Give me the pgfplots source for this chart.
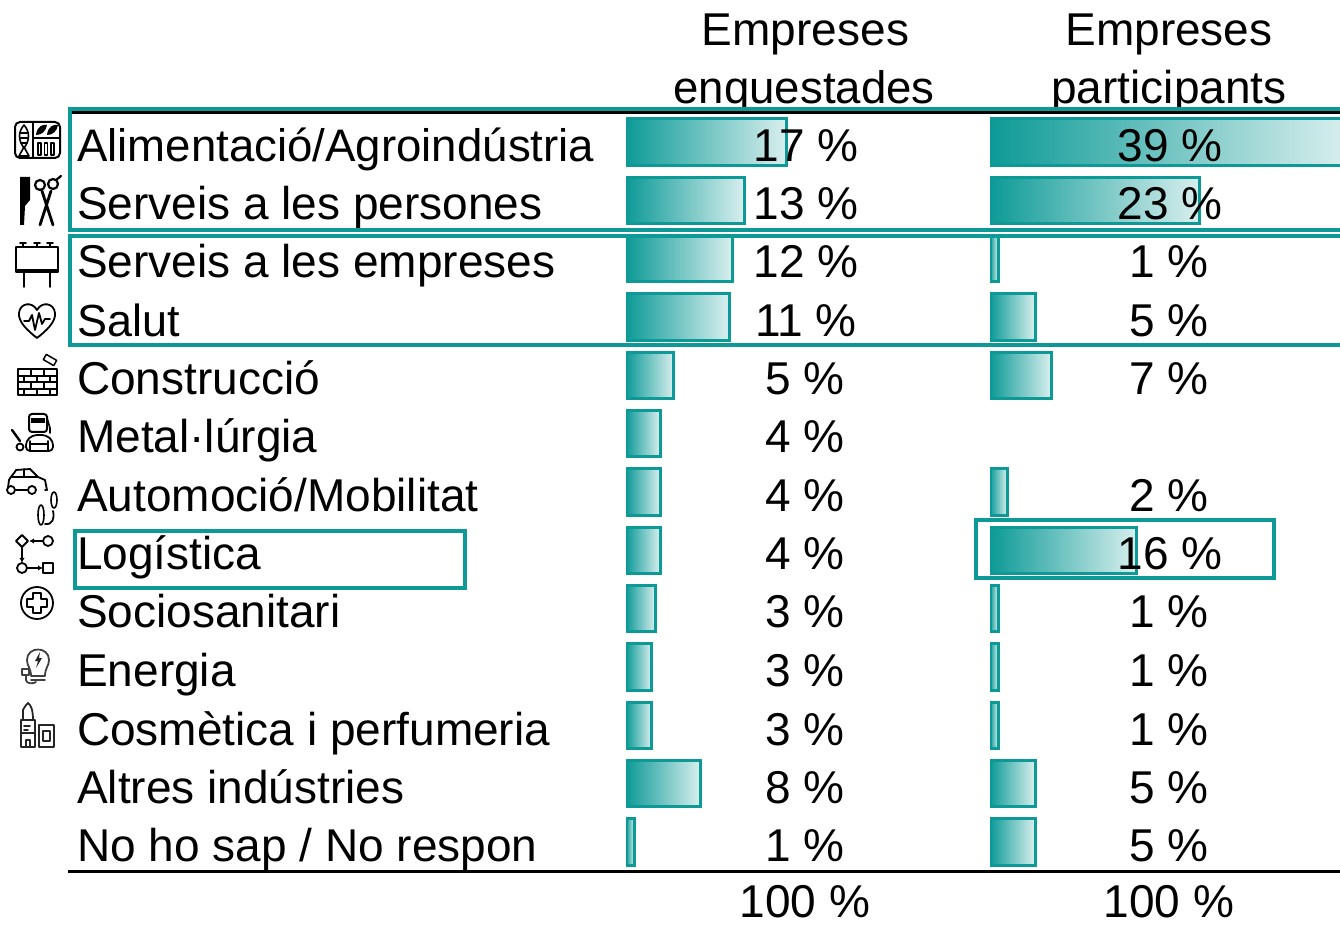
\documentclass[border=0pt]{standalone}
\usepackage{pgfplots}
\pgfplotsset{compat=1.18}
\usepackage{fontspec}
\setmainfont{Liberation Sans}
\definecolor{teal1}{HTML}{0D9A97}
\definecolor{teal2}{HTML}{D8EFEE}
\pgfplotsset{baraxis/.style={
  scale only axis, height=924pt, hide axis, y dir=reverse,
  ymin=-2.4343, ymax=13.406, xmin=0, anchor=south west, clip=true}}
\pgfplotsset{barstyle/.style={xbar, bar width=46.5pt, draw=teal1, line width=3pt,
  left color=teal1, right color=teal2, shading angle=90}}
\newcommand{\fs}{\fontsize{46}{50}\selectfont}
\newcommand{\fn}{\fontsize{45.6}{50}\selectfont}
\newcommand{\lab}[2]{\node[anchor=base west,inner sep=0pt] at (77,#1) {\fs #2};}
\newcommand{\vl}[3]{\node[anchor=base,inner sep=0pt] at (#1,#2) {\fs #3};}
\begin{document}
\begin{tikzpicture}[x=1pt,y=1pt]
\path[use as bounding box] (0,0) rectangle (1340,924);
\begin{axis}[baraxis, at={(626pt,0pt)}, width=714pt, xmax=77.6]
\addplot[barstyle] coordinates {(17.4,0)};
\addplot[barstyle] coordinates {(12.9,1)};
\addplot[barstyle] coordinates {(11.6,2)};
\addplot[barstyle] coordinates {(11.2,3)};
\addplot[barstyle] coordinates {(5.2,4)};
\addplot[barstyle] coordinates {(3.7,5)};
\addplot[barstyle] coordinates {(3.7,6)};
\addplot[barstyle] coordinates {(3.7,7)};
\addplot[barstyle] coordinates {(3.2,8)};
\addplot[barstyle] coordinates {(2.8,9)};
\addplot[barstyle] coordinates {(2.8,10)};
\addplot[barstyle] coordinates {(8.1,11)};
\addplot[barstyle] coordinates {(0.9,12)};
\end{axis}
\begin{axis}[baraxis, at={(990pt,0pt)}, width=350pt, xmax=38.9]
\addplot[barstyle] coordinates {(39.5,0)};
\addplot[barstyle] coordinates {(23.3,1)};
\addplot[barstyle] coordinates {(0.9,2)};
\addplot[barstyle] coordinates {(5.0,3)};
\addplot[barstyle] coordinates {(6.8,4)};
\addplot[barstyle] coordinates {(1.9,6)};
\addplot[barstyle] coordinates {(16.3,7)};
\addplot[barstyle] coordinates {(0.9,8)};
\addplot[barstyle] coordinates {(0.9,9)};
\addplot[barstyle] coordinates {(0.9,10)};
\addplot[barstyle] coordinates {(5.0,11)};
\addplot[barstyle] coordinates {(5.0,12)};
\end{axis}
\begin{scope}[yshift=924pt,y=-1pt]
\draw[black,line width=3pt] (68,113)--(1340,113);
\draw[black,line width=3pt] (68,871)--(1340,871);
% headers
\vl{805.5}{46}{Empreses}\node[anchor=base,inner sep=0pt] at (804,104) {\fn enquestades};
\vl{1169}{46}{Empreses}\vl{1169}{104}{participants}
% categories
\node[anchor=base west,inner sep=0pt] at (77,162) {\fn Alimentació/Agroindústria};
\lab{220}{Serveis a les persones}
\lab{278}{Serveis a les empreses}
\node[anchor=base west,inner sep=0pt] at (77,337) {\fontsize{45}{50}\selectfont Salut};
\lab{395}{Construcció}
\lab{453}{Metal·lúrgia}
\lab{512}{Automoció/Mobilitat}
\lab{570}{Logística}
\lab{628}{Sociosanitari}
\lab{686}{Energia}
\lab{745}{Cosmètica i perfumeria}
\lab{803}{Altres indústries}
\lab{861}{No ho sap / No respon}
% values
\vl{806}{162}{17 \%}\vl{806}{220}{13 \%}\vl{806}{278}{12 \%}\vl{806}{337}{11 \%}
\vl{805}{395}{5 \%}\vl{805}{453}{4 \%}\vl{805}{512}{4 \%}\vl{805}{570}{4 \%}
\vl{805}{628}{3 \%}\vl{805}{686}{3 \%}\vl{805}{745}{3 \%}\vl{805}{803}{8 \%}\vl{805}{861}{1 \%}
\vl{805}{917}{100 \%}
\vl{1170}{162}{39 \%}\vl{1170}{220}{23 \%}\vl{1169}{278}{1 \%}\vl{1169}{337}{5 \%}
\vl{1169}{395}{7 \%}\vl{1169}{512}{2 \%}\vl{1170}{570}{16 \%}
\vl{1169}{628}{1 \%}\vl{1169}{686}{1 \%}\vl{1169}{745}{1 \%}\vl{1169}{803}{5 \%}\vl{1169}{861}{5 \%}
\vl{1169}{917}{100 \%}
% frames
\draw[teal1,line width=3.6pt] (1345,109)--(70,109)--(70,230)--(1345,230);
\draw[teal1,line width=3.6pt] (1345,236)--(70,236)--(70,345)--(1345,345);
\draw[teal1,line width=3.6pt] (75,531) rectangle (465,588);
\draw[teal1,line width=3.6pt] (976,520) rectangle (1274,578);
% icons
\begin{scope}[line width=1.8pt,line cap=round,line join=round]
% food tray
\draw[rounded corners=5pt,line width=2pt] (15,122) rectangle (60,158);
\draw (33,122)--(33,158) (33,138)--(60,138);
\draw[line width=1.6pt] (24,125) .. controls (18,132) and (18,140) .. (24,148) .. controls (30,140) and (30,132) .. (24,125);
\draw[line width=1.6pt] (24,147)--(19,156)--(29,156)--cycle;
\draw (20,133)--(28,133) (20,138)--(28,138) (21,143)--(27,143);
\fill (36,135) .. controls (37,126) and (43,124) .. (47,125) .. controls (46,131) and (42,135) .. (36,135);
\fill (47,135) .. controls (48,126) and (54,124) .. (58,125) .. controls (57,131) and (53,135) .. (47,135);
\draw[line width=1.5pt] (38,143) rectangle (41,155) (44.5,143) rectangle (47.5,155) (51,143) rectangle (54,155);
% comb, scissors
\fill (20,177)--(30,177)--(30,200)--(25,206)--(24,225)--(20,225)--cycle;
\draw[line width=2.2pt] (40,185) circle (5) (53,184) circle (5);
\draw[line width=2.8pt] (42,191)--(53,225) (51,191)--(40,225);
\draw[line width=2.2pt] (56,180)--(61,176);
% billboard
\draw[line width=2pt] (16,247) rectangle (58,272);
\fill (16,269) rectangle (58,273);
\draw[line width=2pt] (24,273)--(24,287) (50,273)--(50,287) (23,243)--(23,247) (37,243)--(37,247) (50,243)--(50,247);
\draw (20,243)--(26,243) (34,243)--(40,243) (47,243)--(53,243);
% heart
\draw[line width=1.8pt] (37,338) .. controls (28,331) and (18,322) .. (19,313) .. controls (20,303) and (32,301) .. (37,310) .. controls (42,301) and (54,303) .. (55,313) .. controls (56,322) and (46,331) .. (37,338) -- cycle;
\draw (24,321)--(29,321)--(32,315)--(35,330)--(39,313)--(42,324)--(45,319)--(50,319);
% bricks
\draw[line width=1.8pt] (18,369) rectangle (57,395);
\draw[line width=1.5pt] (18,376)--(57,376) (18,382)--(57,382) (18,389)--(57,389);
\draw[line width=1.5pt] (31,369)--(31,376) (44,369)--(44,376) (24,376)--(24,382) (37,376)--(37,382) (50,376)--(50,382) (31,382)--(31,389) (44,382)--(44,389) (24,389)--(24,395) (37,389)--(37,395) (50,389)--(50,395);
\draw[line width=1.5pt,rotate around={-30:(50,360)}] (44,357) rectangle (56,363);
% welder
\draw[rounded corners=3pt,line width=2pt] (29,432) -- (29,414) -- (47,414) -- (47,432) -- cycle;
\fill (31,418) rectangle (45,423);
\draw[line width=1.6pt] (47,418)--(50,428)--(50,433);
\draw[line width=1.8pt,rounded corners=4pt] (26,451) -- (26,441) -- (33,435) -- (46,435) -- (53,441) -- (53,451) -- cycle;
\draw (30,441)--(30,451) (48,441)--(48,451) (30,444)--(48,444);
\draw[line width=2.4pt] (12,430)--(20,441);
\draw (20,447) circle (3.5);
% car
\draw[line width=1.8pt] (8,488)--(9,480) .. controls (11,476) and (14,474) .. (16,470) -- (30,469) -- (38,477) -- (45,480) -- (47,490) -- (45,490);
\draw (12,477)--(38,477) (24,469)--(24,477);
\draw (11,490) circle (4) (32,490) circle (4);
\draw (15,490)--(28,490);
\draw[line width=1.6pt] (54,500) ellipse (3 and 8) (41,515) ellipse (3 and 10);
\draw (45,524) .. controls (52,525) and (55,519) .. (53,511);
% logistics
\draw (22,535)--(28,541)--(22,547)--(16,541)--cycle;
\draw (48,541) circle (5);
\draw (22,568) circle (5);
\draw (43,541)--(31,541);
\draw (27,568)--(41,568);
\draw (22,547)--(22,561);
\fill (30,541)--(34,538.5)--(34,543.5)--cycle;
\fill (42,568)--(38,565.5)--(38,570.5)--cycle;
\fill (22,562)--(19.5,558)--(24.5,558)--cycle;
\draw (43,563) rectangle (53,573);
% cross circle
\draw (37,603) circle (16);
\draw (33,593)--(41,593)--(41,599)--(47,599)--(47,607)--(41,607)--(41,613)--(33,613)--(33,607)--(27,607)--(27,599)--(33,599)--cycle;
% bulb
\draw[black!75] (31,676) .. controls (31,668) and (27,666) .. (27,660) .. controls (27,646) and (49,646) .. (49,660) .. controls (49,666) and (45,668) .. (45,676) -- cycle;
\fill[black!85] (40,652)--(35,661)--(38,661)--(36,668)--(42,658)--(39,658)--cycle;
\draw[black!75] (31,680)--(45,680);
\draw[black!75] (26,676)--(26,680) .. controls (26,684) and (34,684) .. (36,682);
\draw[black!75] (22,669) rectangle (29,675);
% lipstick
\draw[black!85] (23,720)--(23,710) .. controls (25,706) and (27,704) .. (28,703) .. controls (31,705) and (33,710) .. (33,720) -- cycle;
\draw[black!85] (21,720) rectangle (35,747);
\draw[black!85] (21,733)--(35,733);
\draw[black!85] (24,726)--(30,726) (24,730)--(28,730);
\draw[black!85] (26,740) rectangle (30,747);
\draw[black!85] (39,725) rectangle (54,747);
\draw[black!85] (43,731) rectangle (50,741);
\end{scope}
\end{scope}
\end{tikzpicture}
\end{document}
